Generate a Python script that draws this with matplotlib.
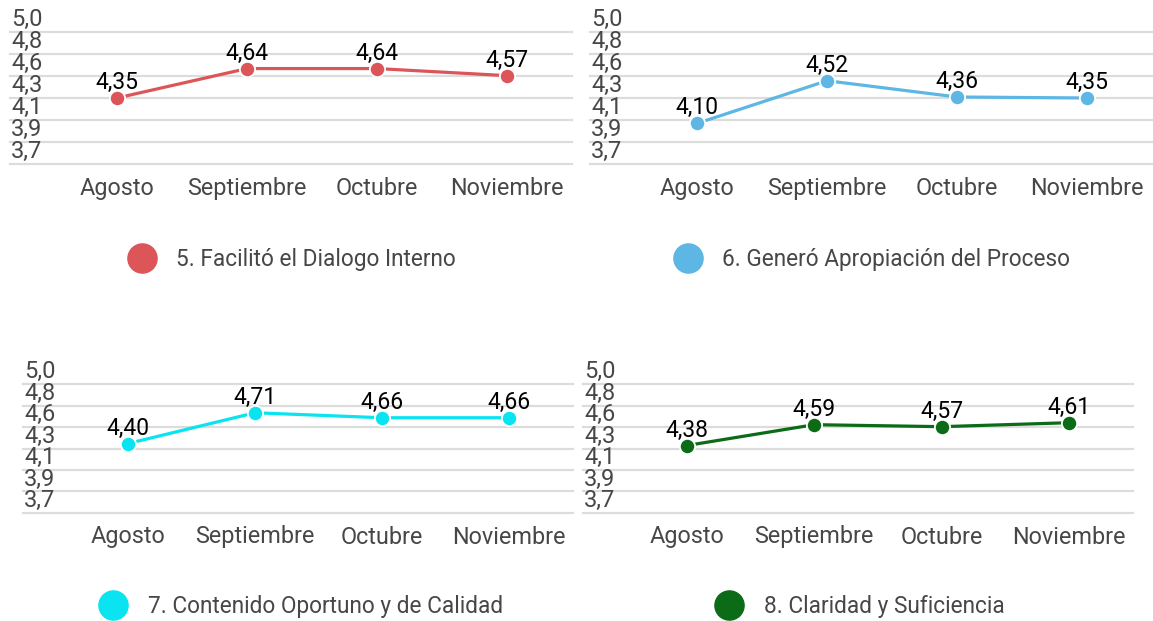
import matplotlib
matplotlib.use("Agg")
import matplotlib.pyplot as plt
from matplotlib.lines import Line2D
import numpy as np

plt.rcParams['font.family'] = ['Roboto', 'DejaVu Sans']

months = ["Agosto", "Septiembre", "Octubre", "Noviembre"]
y_ticks = [3.7, 3.9167, 4.1333, 4.35, 4.5667, 4.7833, 5.0]
y_tick_labels = ["3,7", "3,9", "4,1", "4,3", "4,6", "4,8", "5,0"]

names = [
    "5. Facilitó el Dialogo Interno",
    "6. Generó Apropiación del Proceso",
    "7. Contenido Oportuno y de Calidad",
    "8. Claridad y Suficiencia",
]
values_5 = [4.35, 4.64, 4.64, 4.57]
values_6 = [4.10, 4.52, 4.36, 4.35]
values_7 = [4.40, 4.71, 4.66, 4.66]
values_8 = [4.38, 4.59, 4.57, 4.61]
series = [values_5, values_6, values_7, values_8]
colors = ["#dc5558", "#5db6e4", "#0ae4f0", "#0b6b16"]

W, H = 1153, 621
fig = plt.figure(figsize=(W / 100, H / 100), dpi=100)

# layout in pixels: grid left, grid right, plot-band start, band width, top gridline y, bottom gridline y,
# legend marker centre x, legend y
layout = [
    (10, 572, 52, 130, 32, 164, 142, 259),
    (590, 1152, 632, 130, 32, 164, 688, 259),
    (23, 573, 64.5, 127, 384, 513, 113, 606),
    (583, 1133, 623, 127.5, 384, 513, 729, 606),
]

grid_color = "#dcdcdc"
text_gray = "#474747"

for vals, name, col, (L, R, B, BW, yt, yb, lx, ly) in zip(series, names, colors, layout):
    ax = fig.add_axes([L / W, 1 - yb / H, (R - L) / W, (yb - yt) / H])
    x = np.arange(len(months))
    ax.set_xlim(-0.5 - (B - L) / BW, (R - B) / BW - 0.5)
    ax.set_ylim(y_ticks[0], y_ticks[-1])
    for v in y_ticks:
        ax.axhline(v, color=grid_color, lw=1.6, clip_on=False, zorder=0)
    for v, lab in zip(y_ticks, y_tick_labels):
        ax.annotate(lab, xy=(0, v), xycoords=('axes fraction', 'data'),
                    xytext=(0.7, 4.2), textcoords='offset points',
                    ha='left', va='baseline', fontsize=17, color=text_gray,
                    annotation_clip=False)
    ax.set_yticks([])
    for s in ax.spines.values():
        s.set_visible(False)
    ax.set_xticks(x)
    ax.set_xticklabels(months, fontsize=16.8, color=text_gray)
    ax.tick_params(axis='x', length=0, pad=9)
    ax.plot(x, vals, color=col, lw=2.3, marker='o', ms=11, mfc=col,
            mec='white', mew=1.3, clip_on=False, zorder=3)
    for xi, v in zip(x, vals):
        ax.annotate(f"{v:.2f}".replace('.', ','), xy=(xi, v), xytext=(0, 6.5),
                    textcoords='offset points', ha='center', va='baseline',
                    fontsize=16.5, color='black', annotation_clip=False, zorder=4)
    handle = Line2D([], [], ls='', marker='o', ms=21, color=col)
    fs = 16.3
    fs_px = fs * 100 / 72
    hl = 29 / fs_px
    leg = ax.legend([handle], [name], loc='center left',
                    bbox_to_anchor=((lx - 14.5) / W, 1 - ly / H),
                    bbox_transform=fig.transFigure, frameon=False,
                    borderpad=0, borderaxespad=0, handlelength=hl,
                    handletextpad=20 / fs_px, fontsize=fs)
    for t in leg.get_texts():
        t.set_color(text_gray)

fig.savefig("out.png", dpi=100)
